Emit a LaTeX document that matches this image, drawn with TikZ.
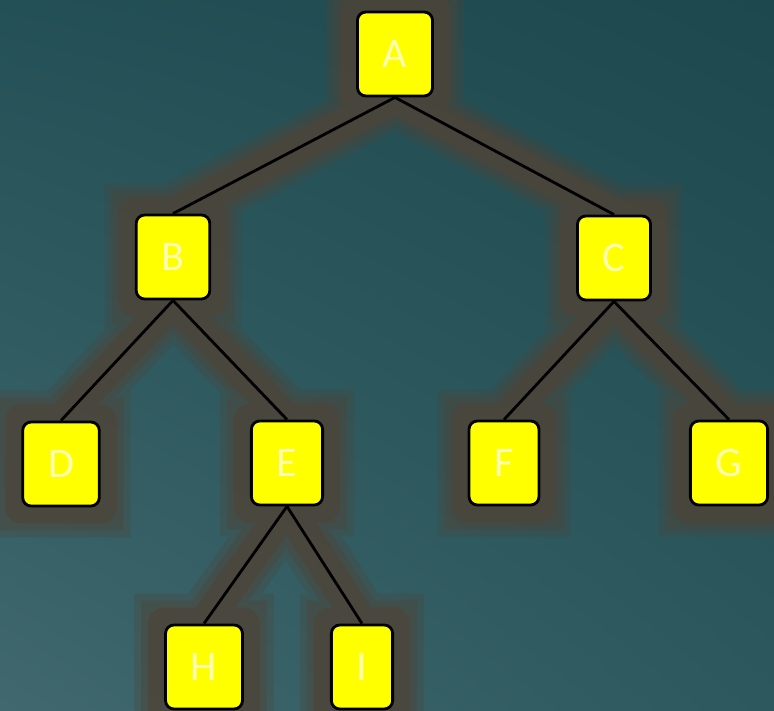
\documentclass[tikz,border=0pt]{standalone}
\usepackage{fontspec}
\newfontfamily\lettersans{Carlito}
\usepackage{xcolor}
\usepackage{tikz}
\usetikzlibrary{backgrounds, shadings}

\definecolor{bgTL}{RGB}{35,80,86}
\definecolor{bgTR}{RGB}{29,72,78}
\definecolor{bgBL}{RGB}{64,104,110}
\definecolor{bgBR}{RGB}{44,88,94}
\definecolor{haze}{RGB}{78,68,56}
\definecolor{boxyellow}{RGB}{255,255,0}
\definecolor{lettercol}{RGB}{255,255,180}

\begin{document}
\begin{tikzpicture}[
        x=0.025cm, y=-0.025cm,
        treenode/.style={rectangle, draw=black, line width=2pt, fill=boxyellow, rounded corners=6pt, minimum height=2.1cm, inner xsep=18pt, text=lettercol, font=\lettersans\fontsize{30}{30}\selectfont},
        branch/.style={draw=black, line width=2pt},
        glow/.style={line join=round, line cap=round, draw=haze, line width=0.8cm, draw opacity=0.65,
            preaction={draw=haze, line width=1.5cm, draw opacity=0.3},
            preaction={draw=haze, line width=1.15cm, draw opacity=0.4}},
    ]
    \useasboundingbox (0,0) rectangle (774,710);
    % tree nodes
    \node[treenode] (A) at (395,54) {A};
    \node[treenode] (B) at (173,257) {B};
    \node[treenode] (C) at (614,258) {C};
    \node[treenode] (D) at (61,464) {D};
    \node[treenode] (E) at (287,463) {E};
    \node[treenode] (F) at (504,463) {F};
    \node[treenode] (G) at (729,463) {G};
    \node[treenode] (H) at (204,667) {H};
    \node[treenode] (I) at (362,667) {I};
    \begin{scope}[on background layer]
    \shade[upper left=bgTL, upper right=bgTR, lower left=bgBL, lower right=bgBR] (0,0) rectangle (774,710);
    % brownish halo behind the tree
    \path[glow] (A.south)--(B.north) (A.south)--(C.north) (B.south)--(D.north) (B.south)--(E.north)
        (C.south)--(F.north) (C.south)--(G.north) (E.south)--(H.north) (E.south)--(I.north)
        (A.south west) rectangle (A.north east) (B.south west) rectangle (B.north east)
        (C.south west) rectangle (C.north east) (D.south west) rectangle (D.north east)
        (E.south west) rectangle (E.north east) (F.south west) rectangle (F.north east)
        (G.south west) rectangle (G.north east) (H.south west) rectangle (H.north east)
        (I.south west) rectangle (I.north east);
    \draw[branch] (A.south)--(B.north); \draw[branch] (A.south)--(C.north);
    \draw[branch] (B.south)--(D.north); \draw[branch] (B.south)--(E.north);
    \draw[branch] (C.south)--(F.north); \draw[branch] (C.south)--(G.north);
    \draw[branch] (E.south)--(H.north); \draw[branch] (E.south)--(I.north);
    \end{scope}
\end{tikzpicture}
\end{document}
